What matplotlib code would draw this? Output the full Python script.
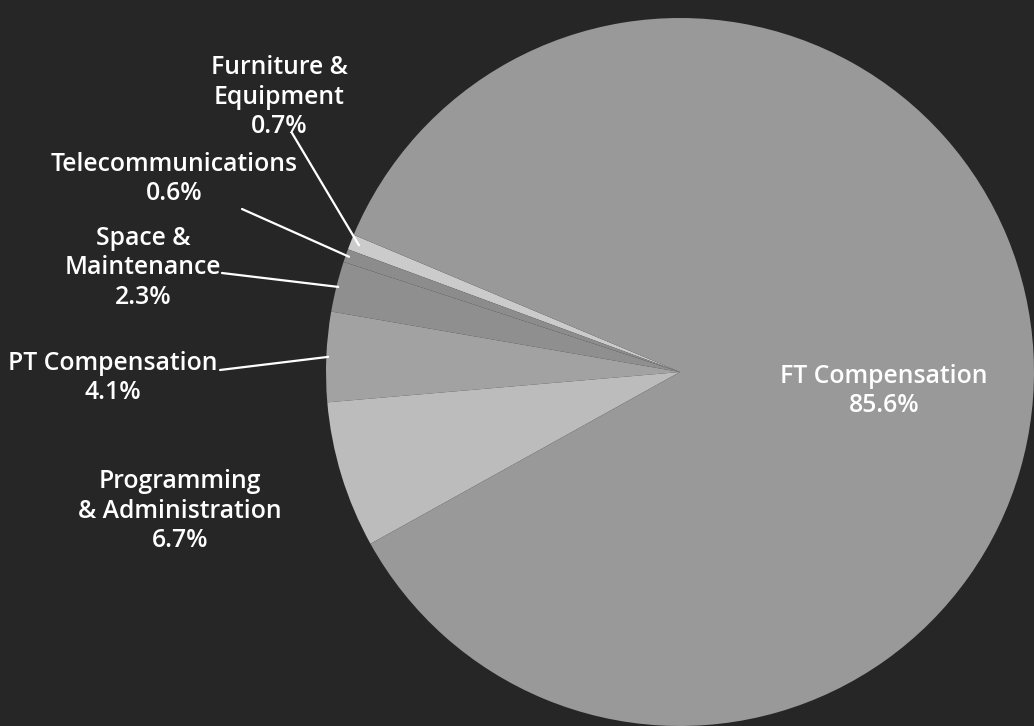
import matplotlib.pyplot as plt
import numpy as np

labels = ["Furniture &\nEquipment", "Telecommunications", "Space &\nMaintenance",
          "PT Compensation", "Programming\n& Administration", "FT Compensation"]
shares = [0.7, 0.6, 2.3, 4.1, 6.7, 85.6]
colors = ["#cbcbcb", "#8c8c8c", "#8f8f8f", "#a2a2a2", "#bcbcbc", "#999999"]

bg = "#262626"
W, H = 1034, 726
fig = plt.figure(figsize=(W / 100, H / 100), dpi=100, facecolor=bg)
plt.rcParams["font.family"] = ["Open Sans", "DejaVu Sans"]

# pie centre (680, 372) px, radius 354 px
cx, cy, r = 680, 372, 354
ax = fig.add_axes([(cx - r) / W, (H - cy - r) / H, 2 * r / W, 2 * r / H])
ax.set_facecolor(bg)
wedges, _ = ax.pie(shares, colors=colors, startangle=157.2, counterclock=True,
                   radius=1, wedgeprops=dict(linewidth=0))
ax.set_xlim(-1, 1)
ax.set_ylim(-1, 1)
ax.set_aspect("equal")
ax.axis("off")

# label text centres in pixels (x, y from top)
text_pos = [(279, 97), (174, 179), (143, 268), (113, 378), (180, 511), (884, 391)]
# leader line starts (pixels) for the small slices
line_start = {0: (292, 133), 1: (242, 209), 2: (222, 273), 3: (220, 370)}
line_r = {0: 0.975, 1: 0.99, 2: 0.995, 3: 0.995}

for i, (lab, v) in enumerate(zip(labels, shares)):
    tx, ty = text_pos[i]
    fig.text(tx / W, 1 - ty / H, f"{lab}\n{v}%", color="white", fontsize=17.8,
             fontweight="semibold", ha="center", va="center",
             multialignment="center", linespacing=1.24)
    if i in line_start:
        w = wedges[i]
        mid = np.deg2rad((w.theta1 + w.theta2) / 2)
        rr = line_r[i]
        sx, sy = line_start[i]
        ax.annotate("", xy=(rr * np.cos(mid), rr * np.sin(mid)), xycoords="data",
                    xytext=(sx, H - sy), textcoords="figure pixels",
                    arrowprops=dict(arrowstyle="-", color="white", lw=1.6,
                                    shrinkA=0, shrinkB=0))

fig.savefig("out.png", dpi=100, facecolor=bg)
